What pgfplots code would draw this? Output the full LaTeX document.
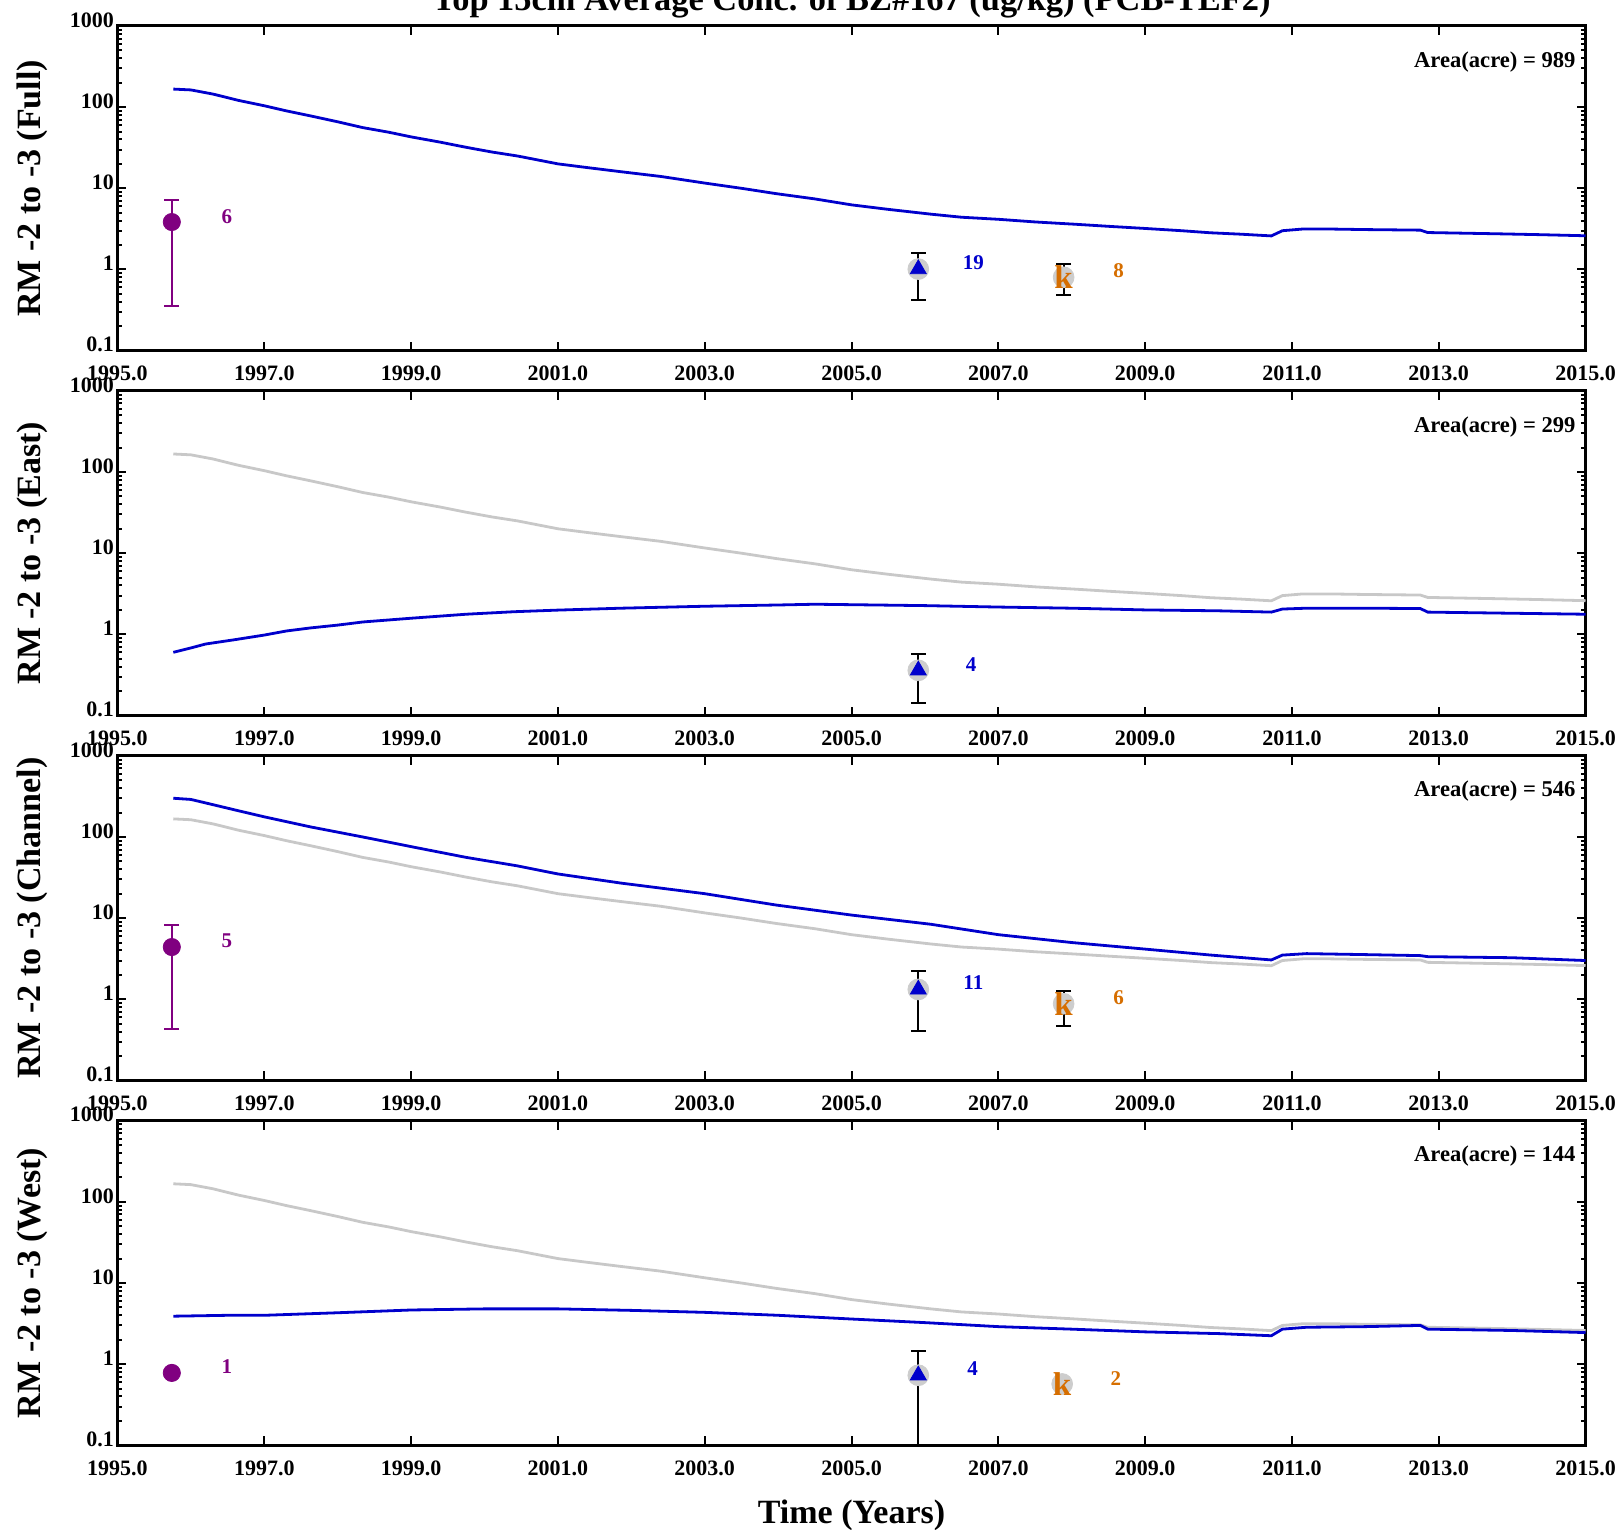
\documentclass[border=0pt]{standalone}
\usepackage{fontspec}
\setmainfont{Liberation Serif}
\usepackage{pgfplots}
\usepackage{pgfplotstable}
\pgfplotsset{compat=1.18}
\definecolor{lblue}{RGB}{0,0,204}
\definecolor{lgray}{RGB}{200,200,200}
\definecolor{cgray}{RGB}{205,205,205}
\definecolor{lpurple}{RGB}{128,0,128}
\definecolor{lorange}{RGB}{214,110,0}

\pgfplotstableread{
x y
1995.76 167
1996.0 163
1996.3 145
1996.65 121
1997.0 104
1997.3 90
1997.63 78
1998.0 66
1998.34 56
1998.7 49
1999.0 43
1999.4 37
1999.75 32
2000.1 28
2000.45 25
2001.0 20
2001.4 18
2001.86 16
2002.4 14
2003.0 11.6
2003.5 10
2003.97 8.6
2004.5 7.4
2005.0 6.25
2005.5 5.5
2006.08 4.8
2006.5 4.4
2007.0 4.15
2007.5 3.85
2008.06 3.6
2008.5 3.4
2009.0 3.2
2009.5 3.0
2009.89 2.83
2010.3 2.72
2010.72 2.59
2010.87 3.0
2011.15 3.15
2011.5 3.15
2012.0 3.1
2012.75 3.05
2012.85 2.85
2013.8 2.75
2014.4 2.68
2015.0 2.6
}\fulldata

\pgfplotstableread{
x y
1995.76 0.6
1996.0 0.68
1996.2 0.76
1996.6 0.86
1997.0 0.98
1997.3 1.1
1997.63 1.2
1998.0 1.3
1998.34 1.42
1999.0 1.58
1999.75 1.77
2000.4 1.9
2001.0 1.99
2001.86 2.1
2003.0 2.22
2004.0 2.3
2004.5 2.35
2005.0 2.32
2006.0 2.26
2007.0 2.17
2008.0 2.1
2009.0 2.0
2010.0 1.95
2010.72 1.88
2010.87 2.05
2011.2 2.1
2012.0 2.1
2012.75 2.08
2012.85 1.88
2014.0 1.82
2015.0 1.77
}\eastdata

\pgfplotstableread{
x y
1995.76 300
1996.0 290
1996.3 250
1996.65 210
1997.0 177
1997.63 133
1998.34 100
1999.0 76
1999.75 56
2000.45 44
2001.0 35
2001.86 27
2003.0 20
2003.97 14.5
2005.0 10.9
2006.08 8.4
2007.0 6.25
2008.0 5.0
2009.0 4.15
2009.9 3.5
2010.72 3.05
2010.87 3.5
2011.2 3.65
2012.0 3.55
2012.75 3.45
2012.85 3.35
2014.0 3.25
2015.0 3.0
}\channeldata

\pgfplotstableread{
x y
1995.76 3.9
1996.5 4.0
1997.0 4.0
1998.0 4.3
1999.0 4.65
2000.0 4.8
2001.0 4.8
2002.0 4.6
2003.0 4.35
2004.0 4.0
2005.0 3.6
2006.0 3.25
2007.0 2.9
2008.0 2.7
2009.0 2.5
2010.0 2.38
2010.72 2.24
2010.87 2.7
2011.2 2.85
2012.0 2.9
2012.75 3.0
2012.85 2.7
2014.0 2.6
2015.0 2.45
}\westdata

\pgfplotsset{
  every axis/.append style={
    scale only axis, width=734pt, height=162.3pt,
    xmin=1995, xmax=2015, ymin=0.1, ymax=1000,
    xtick={1995,1997,...,2015},
    xticklabels={1995.0,1997.0,1999.0,2001.0,2003.0,2005.0,2007.0,2009.0,2011.0,2013.0,2015.0},
    minor x tick num=4,
    ytick={0.1,1,10,100,1000}, yticklabels={0.1,1,10,100,1000},
    minor ytick={0.2,0.3,0.4,0.5,0.6,0.7,0.8,0.9,2,3,4,5,6,7,8,9,20,30,40,50,60,70,80,90,200,300,400,500,600,700,800,900},
    tick align=inside,
    axis line style={line width=1.5pt},
    every tick/.style={black, line width=1pt},
    major tick length=4.5pt, minor tick length=2.5pt,
    ticklabel style={font=\bfseries\fontsize{11}{11}\selectfont},
    xticklabel style={yshift=-4pt},
    yticklabel style={xshift=1.7pt, yshift=3pt},
    ylabel style={at={(axis description cs:-0.0578,0.5)}, anchor=center, font=\bfseries\fontsize{17}{17}\selectfont},
  },
}
\tikzset{
  refline/.style={draw=lgray, line width=1.4pt},
  mainline/.style={draw=lblue, line width=1.4pt},
  purplebar/.style={draw=lpurple, line width=1pt},
  blackbar/.style={draw=black, line width=1pt},
  bgcirc/.style={draw=cgray, fill=cgray},
  tri/.style={draw=lblue, fill=lblue},
  pdot/.style={draw=lpurple, fill=lpurple},
  numlab/.style={font=\bfseries\fontsize{10.5}{10.5}\selectfont},
  arealab/.style={anchor=east, font=\bfseries\fontsize{11.3}{11.3}\selectfont},
}

\begin{document}
\begin{tikzpicture}
\node[anchor=base, font=\bfseries\fontsize{17.2}{17.2}\selectfont] at (425.75pt,-5.3pt) {Top 15cm Average Conc. of BZ\#167 (ug/kg) (PCB-TEF2)};

% ---------- Panel 1: Full
\begin{semilogyaxis}[at={(58.75pt,-13pt)}, anchor=north west, ylabel={RM -2 to -3 (Full)}]
\addplot[mainline, no marks] table[x=x,y=y] {\fulldata};
\addplot[purplebar, mark=-, mark size=3.7pt] coordinates {(1995.74,0.35) (1995.74,7.27)};
\addplot[only marks, mark=*, mark size=4.3pt, mark options={pdot}] coordinates {(1995.74,3.84)};
\addplot[blackbar, mark=-, mark size=3.7pt] coordinates {(2005.91,0.42) (2005.91,1.61)};
\addplot[only marks, mark=*, mark size=5.2pt, mark options={bgcirc}] coordinates {(2005.91,1.01)};
\addplot[only marks, mark=triangle*, mark size=4.6pt, mark options={tri}] coordinates {(2005.91,1.01)};
\addplot[blackbar, mark=-, mark size=3.7pt] coordinates {(2007.89,0.48) (2007.89,1.16)};
\addplot[only marks, mark=*, mark size=5.2pt, mark options={bgcirc}] coordinates {(2007.89,0.80)};
\addplot[only marks, mark=text, text mark={k}, text mark as node=true, text mark style={font=\bfseries\fontsize{16.5}{16.5}\selectfont, text=lorange, inner sep=0pt, anchor=center}] coordinates {(2007.89,0.80)};
\node[numlab, text=lpurple] at (axis cs:1996.49,4.43) {6};
\node[numlab, text=lblue] at (axis cs:2006.66,1.2) {19};
\node[numlab, text=lorange] at (axis cs:2008.64,0.97) {8};
\node[arealab] at (axis description cs:0.998,0.89) {Area(acre) = 989};
\end{semilogyaxis}

% ---------- Panel 2: East
\begin{semilogyaxis}[at={(58.75pt,-195.45pt)}, anchor=north west, ylabel={RM -2 to -3 (East)}]
\addplot[refline, no marks] table[x=x,y=y] {\fulldata};
\addplot[mainline, no marks] table[x=x,y=y] {\eastdata};
\addplot[blackbar, mark=-, mark size=3.7pt] coordinates {(2005.91,0.142) (2005.91,0.57)};
\addplot[only marks, mark=*, mark size=5.2pt, mark options={bgcirc}] coordinates {(2005.91,0.36)};
\addplot[only marks, mark=triangle*, mark size=4.6pt, mark options={tri}] coordinates {(2005.91,0.36)};
\node[numlab, text=lblue] at (axis cs:2006.63,0.43) {4};
\node[arealab] at (axis description cs:0.998,0.89) {Area(acre) = 299};
\end{semilogyaxis}

% ---------- Panel 3: Channel
\begin{semilogyaxis}[at={(58.75pt,-377.9pt)}, anchor=north west, ylabel={RM -2 to -3 (Channel)}]
\addplot[refline, no marks] table[x=x,y=y] {\fulldata};
\addplot[mainline, no marks] table[x=x,y=y] {\channeldata};
\addplot[purplebar, mark=-, mark size=3.7pt] coordinates {(1995.74,0.43) (1995.74,8.2)};
\addplot[only marks, mark=*, mark size=4.3pt, mark options={pdot}] coordinates {(1995.74,4.4)};
\addplot[blackbar, mark=-, mark size=3.7pt] coordinates {(2005.91,0.41) (2005.91,2.24)};
\addplot[only marks, mark=*, mark size=5.2pt, mark options={bgcirc}] coordinates {(2005.91,1.32)};
\addplot[only marks, mark=triangle*, mark size=4.6pt, mark options={tri}] coordinates {(2005.91,1.32)};
\addplot[blackbar, mark=-, mark size=3.7pt] coordinates {(2007.89,0.47) (2007.89,1.28)};
\addplot[only marks, mark=*, mark size=5.2pt, mark options={bgcirc}] coordinates {(2007.89,0.88)};
\addplot[only marks, mark=text, text mark={k}, text mark as node=true, text mark style={font=\bfseries\fontsize{16.5}{16.5}\selectfont, text=lorange, inner sep=0pt, anchor=center}] coordinates {(2007.89,0.88)};
\node[numlab, text=lpurple] at (axis cs:1996.49,5.2) {5};
\node[numlab, text=lblue] at (axis cs:2006.66,1.62) {11};
\node[numlab, text=lorange] at (axis cs:2008.64,1.04) {6};
\node[arealab] at (axis description cs:0.998,0.89) {Area(acre) = 546};
\end{semilogyaxis}

% ---------- Panel 4: West
\begin{semilogyaxis}[at={(58.75pt,-560.35pt)}, anchor=north west, ylabel={RM -2 to -3 (West)},
  xlabel={Time (Years)},
  xlabel style={at={(axis description cs:0.5,-0.24)}, anchor=base, font=\bfseries\fontsize{17}{17}\selectfont}]
\addplot[refline, no marks] table[x=x,y=y] {\fulldata};
\addplot[mainline, no marks] table[x=x,y=y] {\westdata};
\addplot[only marks, mark=*, mark size=4.3pt, mark options={pdot}] coordinates {(1995.74,0.78)};
\addplot[blackbar, mark=-, mark size=3.7pt, mark indices={2}] coordinates {(2005.91,0.1) (2005.91,1.46)};
\addplot[only marks, mark=*, mark size=5.2pt, mark options={bgcirc}] coordinates {(2005.91,0.73)};
\addplot[only marks, mark=triangle*, mark size=4.6pt, mark options={tri}] coordinates {(2005.91,0.73)};
\addplot[only marks, mark=*, mark size=5.2pt, mark options={bgcirc}] coordinates {(2007.87,0.57)};
\addplot[only marks, mark=text, text mark={k}, text mark as node=true, text mark style={font=\bfseries\fontsize{16.5}{16.5}\selectfont, text=lorange, inner sep=0pt, anchor=center}] coordinates {(2007.87,0.57)};
\node[numlab, text=lpurple] at (axis cs:1996.49,0.93) {1};
\node[numlab, text=lblue] at (axis cs:2006.65,0.88) {4};
\node[numlab, text=lorange] at (axis cs:2008.6,0.67) {2};
\node[arealab] at (axis description cs:0.998,0.89) {Area(acre) = 144};
\end{semilogyaxis}

\pgfresetboundingbox
\path[use as bounding box] (0,0) rectangle (811pt,-765pt);
\end{tikzpicture}
\end{document}
